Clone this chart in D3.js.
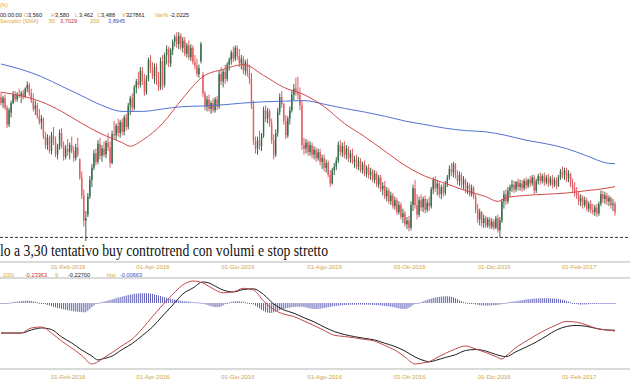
<!DOCTYPE html>
<html><head><meta charset="utf-8">
<script src="https://cdn.jsdelivr.net/npm/d3@7"></script>
<style>html,body{margin:0;padding:0;background:#fff;overflow:hidden}svg{display:block}</style>
</head><body>
<svg id="c" width="630" height="380"></svg>
<script>
// Daily bars [open, high, low, close]
const ohlc = [
[4.45,4.49,4.38,4.40],[4.40,4.46,4.36,4.44],[4.44,4.47,4.34,4.36],[4.36,4.38,4.19,4.22],[4.22,4.36,4.20,4.34],
[4.32,4.42,4.28,4.40],[4.40,4.50,4.39,4.47],[4.47,4.50,4.41,4.43],[4.43,4.49,4.41,4.47],[4.47,4.52,4.44,4.46],
[4.46,4.50,4.40,4.48],[4.48,4.51,4.43,4.45],[4.45,4.53,4.44,4.52],[4.52,4.58,4.49,4.55],[4.55,4.57,4.46,4.48],
[4.48,4.52,4.40,4.42],[4.42,4.48,4.33,4.35],[4.35,4.42,4.30,4.38],[4.38,4.40,4.27,4.29],[4.29,4.35,4.22,4.24],
[4.24,4.30,4.18,4.27],[4.27,4.28,4.10,4.12],[4.12,4.16,4.02,4.05],[4.05,4.14,4.01,4.11],[4.11,4.13,3.98,4.00],
[4.00,4.16,3.97,4.13],[4.13,4.20,4.05,4.08],[4.08,4.12,3.95,3.97],[3.97,4.06,3.93,4.04],[4.04,4.18,4.01,4.15],
[4.15,4.19,4.02,4.04],[4.04,4.08,3.92,3.95],[3.95,4.05,3.93,4.02],[4.02,4.10,3.96,3.99],[3.99,4.07,3.93,4.05],
[4.05,4.12,3.98,4.00],[4.00,4.04,3.91,3.94],[3.94,4.06,3.92,4.03],[4.03,4.11,3.95,3.97],[3.93,3.94,3.76,3.78],
[3.78,3.83,3.60,3.63],[3.63,3.68,3.37,3.42],[3.42,3.50,3.25,3.44],[3.47,3.65,3.45,3.62],[3.62,3.79,3.60,3.76],
[3.76,3.89,3.70,3.86],[3.86,4.01,3.84,3.98],[3.98,4.02,3.88,3.91],[3.91,4.09,3.89,4.06],[4.06,4.11,3.93,3.96],
[3.96,4.05,3.91,4.02],[4.02,4.08,3.95,3.97],[3.97,4.09,3.94,4.07],[4.07,4.15,4.00,4.03],[4.03,4.08,3.86,3.90],
[3.90,4.17,3.89,4.14],[4.14,4.25,4.10,4.13],[4.13,4.23,4.09,4.21],[4.21,4.27,4.12,4.15],[4.15,4.26,4.11,4.24],
[4.24,4.27,4.13,4.16],[4.16,4.30,4.13,4.28],[4.28,4.31,4.17,4.20],[4.20,4.40,4.18,4.38],[4.38,4.46,4.30,4.44],
[4.44,4.48,4.33,4.36],[4.36,4.55,4.34,4.53],[4.53,4.60,4.48,4.58],[4.58,4.66,4.52,4.55],[4.55,4.70,4.53,4.67],
[4.67,4.70,4.55,4.58],[4.58,4.64,4.46,4.49],[4.49,4.63,4.47,4.60],[4.60,4.78,4.58,4.76],[4.76,4.80,4.65,4.68],
[4.68,4.74,4.60,4.62],[4.62,4.73,4.56,4.70],[4.70,4.73,4.55,4.58],[4.58,4.66,4.50,4.53],[4.53,4.78,4.51,4.75],
[4.75,4.80,4.51,4.55],[4.55,4.82,4.53,4.80],[4.80,4.88,4.72,4.85],[4.85,4.87,4.70,4.73],[4.73,4.86,4.70,4.84],
[4.84,4.93,4.80,4.91],[4.91,4.97,4.87,4.95],[4.95,4.99,4.86,4.89],[4.89,4.99,4.85,4.96],[4.96,4.98,4.84,4.86],
[4.86,4.95,4.82,4.92],[4.92,4.95,4.79,4.81],[4.81,4.90,4.78,4.88],[4.88,4.92,4.76,4.78],[4.78,4.89,4.75,4.86],
[4.86,4.88,4.72,4.74],[4.74,4.80,4.68,4.71],[4.71,4.77,4.62,4.64],[4.64,4.72,4.61,4.69],[4.75,4.91,4.73,4.89],
[4.64,4.66,4.45,4.48],[4.48,4.50,4.34,4.37],[4.37,4.46,4.33,4.43],[4.43,4.47,4.33,4.35],[4.35,4.42,4.31,4.40],
[4.40,4.44,4.32,4.34],[4.34,4.45,4.32,4.43],[4.43,4.46,4.34,4.37],[4.37,4.67,4.35,4.64],[4.64,4.70,4.55,4.58],
[4.58,4.68,4.53,4.66],[4.66,4.72,4.56,4.60],[4.60,4.74,4.58,4.72],[4.72,4.78,4.67,4.76],[4.76,4.84,4.72,4.82],
[4.82,4.87,4.74,4.77],[4.77,4.88,4.75,4.86],[4.86,4.88,4.76,4.79],[4.79,4.85,4.70,4.73],[4.73,4.80,4.68,4.77],
[4.77,4.79,4.64,4.67],[4.67,4.76,4.63,4.74],[4.74,4.77,4.62,4.65],[4.65,4.72,4.56,4.60],[4.60,4.65,4.35,4.38],
[4.38,4.42,4.05,4.08],[4.08,4.12,3.98,4.02],[4.02,4.12,3.97,4.09],[4.09,4.17,4.01,4.04],[4.04,4.15,4.00,4.13],
[4.13,4.37,4.11,4.34],[4.34,4.38,4.24,4.27],[4.27,4.36,4.23,4.33],[4.33,4.35,4.20,4.23],[4.23,4.27,4.06,4.09],
[4.09,4.14,3.93,3.97],[3.97,4.18,3.95,4.15],[4.15,4.36,4.12,4.33],[4.33,4.48,4.30,4.45],[4.45,4.50,4.36,4.39],
[4.39,4.40,4.22,4.25],[4.25,4.30,4.10,4.13],[4.13,4.29,4.11,4.27],[4.27,4.37,4.22,4.34],[4.34,4.50,4.32,4.47],
[4.47,4.56,4.42,4.52],[4.52,4.61,4.46,4.49],[4.49,4.62,4.43,4.47],[4.47,4.53,4.34,4.38],[4.38,4.42,4.01,4.05],
[4.05,4.11,3.97,4.02],[4.02,4.10,3.98,4.07],[4.07,4.09,3.96,3.99],[3.99,4.08,3.96,4.05],[4.05,4.07,3.94,3.97],
[3.97,4.04,3.93,4.01],[4.01,4.03,3.91,3.94],[3.94,4.02,3.92,3.99],[3.99,4.02,3.88,3.91],[3.91,3.97,3.85,3.94],
[3.94,3.97,3.83,3.86],[3.86,3.93,3.82,3.90],[3.90,3.92,3.78,3.80],[3.80,3.84,3.70,3.73],[3.73,3.86,3.72,3.84],
[3.84,3.90,3.80,3.87],[3.87,3.95,3.84,3.92],[3.92,4.08,3.90,4.05],[4.05,4.09,3.96,3.99],[3.99,4.07,3.95,4.04],
[4.04,4.08,3.94,3.97],[3.97,4.05,3.93,4.02],[4.02,4.04,3.91,3.94],[3.94,4.01,3.90,3.98],[3.98,4.02,3.89,3.91],
[3.91,3.96,3.86,3.93],[3.93,3.97,3.85,3.87],[3.87,3.95,3.84,3.92],[3.92,3.94,3.82,3.84],[3.84,3.91,3.81,3.89],
[3.89,3.92,3.79,3.81],[3.81,3.88,3.78,3.86],[3.86,3.89,3.77,3.80],[3.80,3.86,3.76,3.83],[3.83,3.85,3.74,3.76],
[3.76,3.84,3.73,3.81],[3.81,3.83,3.70,3.72],[3.72,3.80,3.69,3.78],[3.78,3.80,3.66,3.68],[3.68,3.74,3.63,3.71],
[3.71,3.75,3.60,3.62],[3.62,3.70,3.58,3.67],[3.67,3.69,3.56,3.58],[3.58,3.66,3.55,3.63],[3.63,3.65,3.52,3.54],
[3.54,3.62,3.51,3.59],[3.59,3.61,3.47,3.49],[3.49,3.58,3.47,3.55],[3.55,3.57,3.43,3.45],[3.45,3.52,3.40,3.48],
[3.48,3.50,3.37,3.39],[3.39,3.45,3.35,3.42],[3.42,3.46,3.33,3.36],[3.36,3.58,3.34,3.55],[3.55,3.72,3.50,3.69],
[3.69,3.76,3.52,3.55],[3.55,3.64,3.43,3.47],[3.47,3.62,3.45,3.59],[3.59,3.64,3.50,3.53],[3.53,3.62,3.49,3.60],
[3.60,3.63,3.48,3.51],[3.51,3.60,3.49,3.57],[3.57,3.62,3.50,3.54],[3.54,3.70,3.52,3.68],[3.68,3.78,3.64,3.76],
[3.76,3.79,3.66,3.69],[3.69,3.76,3.63,3.73],[3.73,3.74,3.61,3.64],[3.64,3.72,3.60,3.70],[3.70,3.73,3.62,3.65],
[3.65,3.75,3.63,3.72],[3.72,3.80,3.70,3.78],[3.78,3.88,3.76,3.85],[3.85,3.90,3.79,3.82],[3.82,3.91,3.78,3.89],
[3.89,3.90,3.77,3.80],[3.80,3.84,3.72,3.75],[3.75,3.83,3.71,3.80],[3.80,3.82,3.69,3.72],[3.72,3.79,3.68,3.76],
[3.76,3.77,3.65,3.68],[3.68,3.74,3.64,3.71],[3.71,3.73,3.62,3.64],[3.64,3.72,3.62,3.69],[3.69,3.71,3.60,3.62],
[3.62,3.64,3.48,3.51],[3.51,3.56,3.40,3.43],[3.43,3.52,3.38,3.49],[3.49,3.50,3.37,3.40],[3.40,3.47,3.36,3.44],
[3.44,3.46,3.36,3.38],[3.38,3.45,3.36,3.43],[3.43,3.45,3.35,3.37],[3.37,3.44,3.35,3.41],[3.41,3.43,3.34,3.36],
[3.36,3.46,3.35,3.44],[3.44,3.47,3.32,3.34],[3.34,3.45,3.28,3.42],[3.42,3.60,3.40,3.58],[3.58,3.67,3.52,3.64],
[3.64,3.68,3.55,3.58],[3.58,3.70,3.56,3.67],[3.67,3.72,3.62,3.70],[3.70,3.76,3.66,3.72],[3.72,3.75,3.65,3.68],
[3.68,3.75,3.66,3.74],[3.74,3.77,3.67,3.70],[3.70,3.76,3.67,3.73],[3.73,3.76,3.66,3.69],[3.69,3.77,3.67,3.75],
[3.75,3.78,3.68,3.71],[3.71,3.77,3.69,3.76],[3.76,3.79,3.70,3.73],[3.73,3.80,3.71,3.78],[3.78,3.80,3.64,3.67],
[3.67,3.77,3.65,3.75],[3.75,3.81,3.72,3.79],[3.79,3.82,3.72,3.75],[3.75,3.81,3.73,3.79],[3.79,3.82,3.71,3.74],
[3.74,3.80,3.72,3.78],[3.78,3.81,3.70,3.73],[3.73,3.79,3.71,3.77],[3.77,3.80,3.69,3.72],[3.72,3.78,3.70,3.76],
[3.76,3.78,3.68,3.71],[3.71,3.80,3.70,3.78],[3.78,3.85,3.76,3.83],[3.83,3.87,3.77,3.80],[3.80,3.86,3.76,3.84],
[3.84,3.86,3.74,3.77],[3.77,3.84,3.74,3.81],[3.81,3.82,3.70,3.72],[3.72,3.77,3.66,3.69],[3.69,3.74,3.62,3.65],
[3.65,3.70,3.60,3.63],[3.63,3.66,3.55,3.58],[3.58,3.64,3.54,3.61],[3.61,3.63,3.52,3.55],[3.55,3.62,3.53,3.59],
[3.59,3.61,3.50,3.52],[3.52,3.58,3.49,3.56],[3.56,3.59,3.48,3.51],[3.51,3.56,3.47,3.49],[3.49,3.55,3.46,3.53],
[3.53,3.56,3.45,3.48],[3.48,3.58,3.46,3.56],[3.56,3.67,3.54,3.64],[3.64,3.67,3.57,3.60],[3.60,3.66,3.56,3.63],
[3.63,3.65,3.55,3.58],[3.58,3.63,3.54,3.61],[3.61,3.62,3.52,3.55],[3.55,3.60,3.50,3.56],[3.560,3.580,3.462,3.488]
];

// Moving averages (bar index, value)
const sma50Idx = [0,10,20,30,40,50,60,64,70,80,90,100,110,120,130,140,150,160,170,180,190,200,210,220,230,240,246,250,260,270,280,290,300,304];
const sma50 = [4.49,4.46,4.41,4.33,4.23,4.14,4.07,4.04,4.09,4.23,4.44,4.62,4.68,4.72,4.63,4.53,4.47,4.37,4.23,4.12,4.00,3.88,3.79,3.73,3.67,3.62,3.58,3.61,3.63,3.64,3.65,3.67,3.69,3.7029];
const sma200Idx = [0,10,20,30,40,50,60,70,80,90,100,110,120,130,140,150,160,170,180,190,200,210,220,230,240,250,260,270,280,290,300,304];
const sma200 = [4.725,4.68,4.62,4.54,4.46,4.38,4.33,4.33,4.35,4.37,4.375,4.385,4.40,4.41,4.415,4.42,4.39,4.355,4.325,4.29,4.25,4.22,4.19,4.17,4.16,4.13,4.09,4.06,4.02,3.96,3.90,3.8945];

// MACD panel
const macdIdx = [0,10,15,20,25,30,35,40,45,48,50,55,60,65,70,75,80,85,90,95,100,103,105,110,115,120,125,130,135,140,145,150,155,160,165,170,175,180,185,190,195,200,205,210,212,215,220,225,230,235,240,245,248,250,255,260,265,270,275,280,285,290,295,300,304];
const macd = [-0.25,-0.25,-0.208,-0.20,-0.25,-0.317,-0.375,-0.4375,-0.508,-0.49,
-0.467,-0.413,-0.355,-0.30,-0.2125,-0.113,-0.017,0.072,0.15,0.183,
0.167,0.138,0.119,0.085,0.093,0.122,0.108,0.017,-0.054,-0.093,
-0.1125,-0.15,-0.1875,-0.229,-0.269,-0.279,-0.29,-0.303,-0.317,-0.354,
-0.392,-0.45,-0.508,-0.496,-0.49,-0.4625,-0.42,-0.383,-0.358,-0.383,
-0.4125,-0.447,-0.467,-0.442,-0.371,-0.317,-0.267,-0.221,-0.183,-0.153,
-0.16,-0.183,-0.213,-0.225,-0.23363];
const signal = [-0.25,-0.25,-0.225,-0.208,-0.221,-0.283,-0.333,-0.392,-0.442,-0.475,
-0.467,-0.442,-0.3875,-0.3375,-0.271,-0.20,-0.108,-0.017,0.075,0.125,
0.175,0.167,0.15,0.108,0.092,0.1125,0.118,0.071,-0.008,-0.057,
-0.085,-0.123,-0.157,-0.20,-0.2375,-0.2625,-0.28,-0.295,-0.308,-0.335,
-0.362,-0.40,-0.45,-0.483,-0.49,-0.479,-0.454,-0.431,-0.396,-0.3875,
-0.40,-0.429,-0.442,-0.447,-0.406,-0.367,-0.325,-0.275,-0.225,-0.196,
-0.187,-0.195,-0.213,-0.225,-0.227];
const hist = [
-0.003,-0.003,-0.002,0,0.002,0.005,0.008,0.010,0.012,0.014,
0.016,0.018,0.019,0.020,0.019,0.017,0.014,0.010,0.006,0.002,
-0.002,-0.006,-0.011,-0.016,-0.021,-0.026,-0.031,-0.036,-0.041,-0.045,
-0.049,-0.053,-0.057,-0.060,-0.063,-0.066,-0.069,-0.071,-0.073,-0.075,
-0.077,-0.078,-0.076,-0.065,-0.050,-0.035,-0.022,-0.010,-0.002,0.004,
0.008,0.012,0.016,0.020,0.025,0.030,0.035,0.040,0.045,0.050,
0.054,0.058,0.062,0.066,0.070,0.073,0.076,0.078,0.080,0.081,
0.082,0.082,0.081,0.080,0.078,0.075,0.071,0.067,0.063,0.058,
0.053,0.048,0.044,0.040,0.036,0.032,0.029,0.026,0.023,0.020,
0.017,0.015,0.013,0.011,0.010,0.008,0.007,0.006,0.004,0.002,
-0.004,-0.010,-0.016,-0.022,-0.027,-0.031,-0.034,-0.035,-0.033,-0.028,
-0.020,-0.010,-0.002,0.005,0.010,0.013,0.015,0.015,0.014,0.012,
0.009,0.006,0.003,0.000,-0.004,-0.012,-0.022,-0.033,-0.045,-0.056,
-0.066,-0.074,-0.080,-0.083,-0.082,-0.078,-0.072,-0.066,-0.060,-0.054,
-0.049,-0.045,-0.041,-0.038,-0.035,-0.033,-0.032,-0.031,-0.031,-0.032,
-0.034,-0.037,-0.041,-0.045,-0.048,-0.050,-0.050,-0.049,-0.047,-0.044,
-0.041,-0.038,-0.035,-0.032,-0.029,-0.026,-0.024,-0.022,-0.020,-0.018,
-0.017,-0.016,-0.015,-0.015,-0.014,-0.014,-0.014,-0.013,-0.013,-0.013,
-0.013,-0.014,-0.014,-0.015,-0.016,-0.017,-0.018,-0.019,-0.020,-0.022,
-0.024,-0.026,-0.028,-0.031,-0.034,-0.037,-0.041,-0.045,-0.048,-0.050,
-0.050,-0.047,-0.040,-0.030,-0.018,-0.008,-0.002,0.003,0.008,0.014,
0.020,0.026,0.032,0.037,0.042,0.046,0.049,0.052,0.054,0.055,
0.056,0.056,0.055,0.052,0.047,0.040,0.031,0.022,0.014,0.008,
0.004,0.002,0.000,-0.004,-0.008,-0.012,-0.015,-0.018,-0.020,-0.021,
-0.022,-0.022,-0.021,-0.020,-0.019,-0.018,-0.016,-0.013,-0.009,-0.004,
0.002,0.006,0.009,0.011,0.013,0.015,0.018,0.021,0.024,0.027,
0.030,0.032,0.034,0.036,0.037,0.038,0.039,0.039,0.040,0.040,
0.040,0.039,0.039,0.038,0.037,0.035,0.033,0.030,0.027,0.023,
0.018,0.012,0.006,0.000,-0.005,-0.009,-0.012,-0.013,-0.013,-0.012,
-0.011,-0.010,-0.009,-0.008,-0.007,-0.006,-0.006,-0.005,-0.005,-0.006,
-0.006,-0.006,-0.006,-0.007,-0.00663];

// Date axis (bar index of each labelled day)
const dateLabels = ["01-Dic-2015","01-Feb-2016","01-Apr-2016","01-Giu-2016","01-Ago-2016","03-Ott-2016","01-Dic-2016","01-Feb-2017"];
const dateIdx = [-9,33,75,117,160,202,244,286];

const supportLevel = 3.28;
const note = "lo a 3,30 tentativo buy controtrend con volumi e stop stretto";

const ORANGE = "#dba63a", GOLD = "#cfa64a", RED_TXT = "#cc3333", BLUE_TXT = "#3355bb", DARK = "#222";

const svg = d3.select("#c");
const x = d3.scaleLinear().domain([0, ohlc.length - 1]).range([1, 615]);
const y = d3.scaleLinear().domain([3.2, 5.1]).range([247, 19]);
const ym = d3.scaleLinear().domain([-0.6, 0.25]).range([375, 273]);

const defs = svg.append("defs");
defs.append("clipPath").attr("id", "cp").append("rect").attr("x", 0).attr("y", 24).attr("width", 630).attr("height", 238);
defs.append("clipPath").attr("id", "cm").append("rect").attr("x", 0).attr("y", 279).attr("width", 630).attr("height", 90);

// header texts
const hdr = svg.append("g").attr("font-family", "'Liberation Sans', Arial, sans-serif").attr("font-size", 5.6);
function tline(yy, parts) {
  const t = hdr.append("text").attr("y", yy);
  parts.forEach(p => t.append("tspan").attr("x", p[0]).attr("fill", p[2]).text(p[1]));
}
tline(7, [[0, "(N)", ORANGE]]);
tline(17, [[0, "00:00:00", DARK], [24, "O", ORANGE], [28, "3,560", DARK], [51, "H", ORANGE], [55, "3,580", DARK],
  [75, "L", ORANGE], [79, "3,462", DARK], [97, "C", ORANGE], [101, "3,488", DARK], [122, "V", ORANGE], [126, "327861", DARK],
  [155, "Var%", ORANGE], [170, "-2,0225", DARK]]);
tline(23, [[0, "Semplici (SMA)", ORANGE], [49, "50", ORANGE], [60, "3,7029", RED_TXT], [90, "200", ORANGE], [108, "3,8945", BLUE_TXT]]);
tline(276.5, [[0, ", 200)", ORANGE], [25, "-0,23363", RED_TXT], [55, "9", ORANGE], [68, "-0,22700", DARK], [107, "hist", ORANGE], [120, "-0,00663", BLUE_TXT]]);

// price panel
const gp = svg.append("g").attr("clip-path", "url(#cp)");
const up = "#356a48", dn = "#e25d63";
gp.selectAll("line.wick").data(ohlc).join("line").attr("class", "wick")
  .attr("x1", (d, i) => x(i)).attr("x2", (d, i) => x(i))
  .attr("y1", d => y(d[1])).attr("y2", d => y(d[2]))
  .attr("stroke", d => d[3] >= d[0] ? up : dn).attr("stroke-width", 1);
gp.selectAll("rect.body").data(ohlc).join("rect").attr("class", "body")
  .attr("x", (d, i) => x(i) - 0.7).attr("width", 1.4)
  .attr("y", d => y(Math.max(d[0], d[3])))
  .attr("height", d => Math.max(0.8, Math.abs(y(d[0]) - y(d[3]))))
  .attr("fill", d => d[3] >= d[0] ? up : dn);

const l50 = d3.line().x((d, k) => x(sma50Idx[k])).y(d => y(d)).curve(d3.curveMonotoneX);
const l200 = d3.line().x((d, k) => x(sma200Idx[k])).y(d => y(d)).curve(d3.curveMonotoneX);
gp.append("path").attr("d", l200(sma200)).attr("fill", "none").attr("stroke", "#5273d2").attr("stroke-width", 1);
gp.append("path").attr("d", l50(sma50)).attr("fill", "none").attr("stroke", "#d24a4a").attr("stroke-width", 1);

// support line
svg.append("line").attr("x1", 0).attr("x2", 630).attr("y1", y(supportLevel)).attr("y2", y(supportLevel))
  .attr("stroke", "#333").attr("stroke-width", 1).attr("stroke-dasharray", "3,2");

svg.append("text").attr("x", 0).attr("y", 256).attr("font-family", "'Liberation Serif','Times New Roman',serif")
  .attr("font-size", 16).attr("fill", "#111").attr("textLength", 328).attr("lengthAdjust", "spacingAndGlyphs").text(note);

// separators
[262, 278, 369].forEach(v => svg.append("line").attr("x1", 0).attr("x2", 630).attr("y1", v).attr("y2", v)
  .attr("stroke", "#b5b5b5").attr("stroke-width", 1.2));

// date axes
function dateAxis(yy, ty) {
  const ax = d3.axisBottom(x).tickValues(dateIdx).tickFormat((d, k) => dateLabels[k]).tickSize(0);
  const g = svg.append("g").attr("transform", `translate(0,${yy})`).call(ax);
  g.select(".domain").remove();
  g.selectAll("text").attr("y", ty).attr("dy", null).attr("fill", GOLD)
    .attr("font-family", "'Liberation Sans', Arial, sans-serif").attr("font-size", 6);
}
dateAxis(262, 7);
dateAxis(369, 9.5);

// MACD panel
const gm = svg.append("g").attr("clip-path", "url(#cm)");
gm.selectAll("rect.h").data(hist).join("rect").attr("class", "h")
  .attr("x", (d, i) => x(i) - 0.5).attr("width", 1)
  .attr("y", d => Math.min(ym(0), ym(d)))
  .attr("height", d => Math.max(1, Math.abs(ym(d) - ym(0))))
  .attr("fill", "#5f5fb8");
const lm = d3.line().x((d, k) => x(macdIdx[k])).y(d => ym(d)).curve(d3.curveMonotoneX);
gm.append("path").attr("d", lm(signal)).attr("fill", "none").attr("stroke", "#1e1e1e").attr("stroke-width", 1);
gm.append("path").attr("d", lm(macd)).attr("fill", "none").attr("stroke", "#c04a4a").attr("stroke-width", 1);
</script>
</body></html>
